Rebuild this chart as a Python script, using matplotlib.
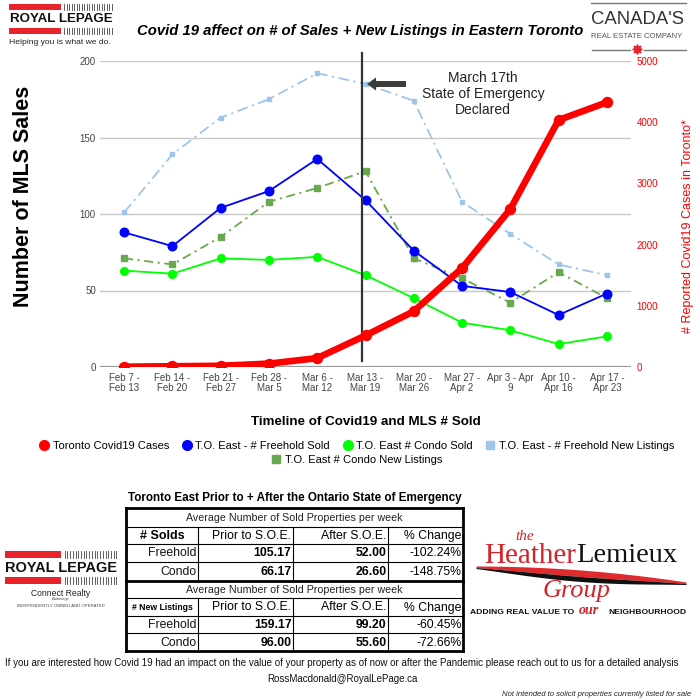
import matplotlib
matplotlib.use('Agg')
import matplotlib.pyplot as plt
from matplotlib.lines import Line2D
from matplotlib.patches import Rectangle, FancyArrow
import numpy as np

plt.rcParams['font.family'] = ['Liberation Sans', 'DejaVu Sans']
NARROW = ['Liberation Sans Narrow', 'Liberation Sans', 'DejaVu Sans']
SERIF = ['Liberation Serif', 'DejaVu Serif']

# ---------------- data ----------------
weeks = ["Feb 7 -\nFeb 13", "Feb 14 -\nFeb 20", "Feb 21 -\nFeb 27", "Feb 28 -\nMar 5",
         "Mar 6 -\nMar 12", "Mar 13 -\nMar 19", "Mar 20 -\nMar 26", "Mar 27 -\nApr 2",
         "Apr 3 - Apr\n9", "Apr 10 -\nApr 16", "Apr 17 -\nApr 23"]
covid_cases = [5, 12, 20, 55, 145, 515, 910, 1615, 2580, 4035, 4325]
freehold_sold = [88, 79, 104, 115, 136, 109, 76, 53, 49, 34, 48]
condo_sold = [63, 61, 71, 70, 72, 60, 45, 29, 24, 15, 20]
freehold_listings = [101, 139, 163, 175, 192, 185, 174, 108, 87, 67, 60]
condo_listings = [71, 67, 85, 108, 117, 128, 71, 58, 42, 62, 45]
sales_ticks = [0, 50, 100, 150, 200]
cases_ticks = [0, 1000, 2000, 3000, 4000, 5000]
series_names = ["Toronto Covid19 Cases", "T.O. East - # Freehold Sold", "T.O. East # Condo Sold",
                "T.O. East - # Freehold New Listings", "T.O. East # Condo New Listings"]
soe_position = 4.92

table_title = "Toronto East Prior to + After the Ontario State of Emergency"
table_subtitle = "Average Number of Sold Properties per week"
table_cols = ["Prior to S.O.E.", "After S.O.E.", "% Change"]
property_types = ["Freehold", "Condo"]
sold_prior = [105.17, 66.17]
sold_after = [52.00, 26.60]
sold_change = [-102.24, -148.75]
list_prior = [159.17, 96.00]
list_after = [99.20, 55.60]
list_change = [-60.45, -72.66]

# ---------------- figure ----------------
fig = plt.figure(figsize=(7, 7), dpi=100)
fig.patch.set_facecolor('white')

ax = fig.add_axes([100/700, 333/700, 531/700, 306/700])
ax.set_facecolor('none')
x = np.arange(len(weeks))
ax.set_xlim(-0.5, len(weeks) - 0.5)
ax.set_ylim(0, 200)
for s in ax.spines.values():
    s.set_visible(False)
ax.set_yticks(sales_ticks)
ax.grid(axis='y', color='#c8c8c8', lw=1)
ax.set_axisbelow(True)
ax.axhline(0, color='#9a9a9a', lw=1.6, zorder=1)
ax.tick_params(axis='y', length=0, pad=3, labelsize=7, labelcolor='#444444')
ax.set_xticks(x)
ax.set_xticklabels(weeks, fontsize=7, color='#444444', linespacing=1.0)
ax.tick_params(axis='x', length=0, pad=4)

ax2 = ax.twinx()
ax2.set_ylim(0, 5000)
ax2.set_yticks(cases_ticks)
for s in ax2.spines.values():
    s.set_visible(False)
ax2.tick_params(axis='y', length=0, pad=4, labelsize=7, labelcolor='#ff0000')

ax.plot(x, freehold_listings, color='#9fc5e8', lw=1.3, ls=(0, (6, 2.5, 1.2, 2.5)),
        marker='s', ms=3.2, zorder=3)
ax.plot(x, condo_listings, color='#6aa84f', lw=1.3, ls=(0, (5, 2.5, 1.2, 2.5)),
        marker='s', ms=4.2, zorder=3)
ax.plot(x, condo_sold, color='#00ff00', lw=1.3, marker='o', ms=5.6, zorder=4)
ax.plot(x, freehold_sold, color='#0000ff', lw=1.3, marker='o', ms=6.2, zorder=4)
ax2.plot(x, covid_cases, color='#ff0000', lw=4.8, marker='o', ms=7.2, zorder=5,
         solid_capstyle='round', solid_joinstyle='round')
ax.plot([soe_position, soe_position], [4, 205], color='#333333', lw=1.6,
        clip_on=False, zorder=6)

ax.set_ylabel("Number of MLS Sales", fontsize=15.5, fontweight='bold', labelpad=0)
ax.yaxis.set_label_coords(-66/531, 0.556)
ax2.set_ylabel("# Reported Covid19 Cases in Toronto*", fontsize=9, color='#ff0000')
ax2.yaxis.set_label_coords(1 + 51/531, 0.46)
ax.set_xlabel("Timeline of Covid19 and MLS # Sold", fontsize=9.6, fontweight='bold')
ax.xaxis.set_label_coords(0.5, -49/306)

# legend
mk = dict(linestyle='none')
h = [Line2D([], [], marker='o', color='#ff0000', ms=7, **mk),
     Line2D([], [], marker='o', color='#0000ff', ms=7, **mk),
     Line2D([], [], marker='o', color='#00ff00', ms=7, **mk),
     Line2D([], [], marker='s', color='#9fc5e8', ms=5.5, **mk),
     Line2D([], [], marker='s', color='#6aa84f', ms=5.5, **mk)]
fig.legend(h[:4], series_names[:4], loc='center', ncol=4,
           bbox_to_anchor=(357/700, 1 - 446/700), frameon=False, fontsize=8,
           handlelength=0.8, handletextpad=0.35, columnspacing=1.2)
fig.legend(h[4:], series_names[4:], loc='center', ncol=1,
           bbox_to_anchor=(357/700, 1 - 460/700), frameon=False, fontsize=8,
           handlelength=0.8, handletextpad=0.35)

# ---------------- overlay (pixel coords) ----------------
ov = fig.add_axes([0, 0, 1, 1], zorder=10)
ov.set_xlim(0, 700)
ov.set_ylim(700, 0)
ov.axis('off')
ov.patch.set_visible(False)

ov.text(360, 31, "Covid 19 affect on # of Sales + New Listings in Eastern Toronto",
        ha='center', va='center', fontsize=10.7, fontweight='bold', style='italic')

ov.text(483, 94, "March 17th\nState of Emergency\nDeclared", ha='center', va='center',
        fontsize=10, linespacing=1.2, color='#222222')
ov.add_patch(FancyArrow(406, 84, -39, 0, width=6, head_width=13, head_length=9,
                        length_includes_head=True, color='#3d3d3d', lw=0))


def royal_logo(x0, y0, w):
    s = w / 104
    ov.add_patch(Rectangle((x0, y0), 52 * s, 6 * s, color='#e8232a', lw=0))
    ov.add_patch(Rectangle((x0, y0 + 24 * s), 52 * s, 6 * s, color='#e8232a', lw=0))
    for yy in (y0, y0 + 24 * s):
        for k in range(20):
            xx = x0 + 55 * s + k * 2.5 * s
            ov.plot([xx, xx], [yy, yy + 6 * s], color='#444444', lw=0.6)
    ov.text(x0 + 52 * s, y0 + 15.5 * s, "ROYAL LEPAGE", ha='center', va='center',
            fontsize=9.6 * s, fontweight='bold', color='#111111')


royal_logo(9, 4, 104)
ov.text(9, 43, "Helping you is what we do.", ha='left', va='center', fontsize=6.1,
        family=NARROW, color='#222222')

royal_logo(5, 551, 113)
ov.text(61, 593, "Connect Realty", ha='center', va='center', fontsize=6.2, color='#222222')
ov.text(61, 599, "Brokerage", ha='center', va='center', fontsize=2.8, color='#444444')
ov.text(61, 606, "INDEPENDENTLY OWNED AND OPERATED", ha='center', va='center',
        fontsize=3.1, color='#444444')

# Canada's logo
ov.plot([591, 686], [3, 3], color='#777777', lw=1)
ov.text(638, 19, "CANADA'S", ha='center', va='center', fontsize=13.3, family=NARROW,
        color='#333333')
ov.text(637, 36, "REAL ESTATE COMPANY", ha='center', va='center', fontsize=5.6,
        family=NARROW, color='#555555')
ov.plot([592, 630], [50, 50], color='#777777', lw=1)
ov.plot([644, 686], [50, 50], color='#777777', lw=1)
ov.plot([637], [49], marker=(8, 1, 0), color='#e8232a', ms=7)

# Heather Lemieux logo
ov.text(525, 537, "the", ha='center', va='center', fontsize=11, family=SERIF,
        style='italic', color='#d2232a')
ov.text(576, 556, "Heather", ha='right', va='center', fontsize=21, family=SERIF,
        color='#d2232a')
ov.text(576, 556, "Lemieux", ha='left', va='center', fontsize=20.5, family=SERIF,
        color='#111111')
t = np.linspace(0, 1, 60)
xs = 476 + 210 * t
top = 566 + 16 * t ** 2
mid = top + 1.5 + 5 * np.sin(np.pi * t)
bot = mid + 1 + 4 * np.sin(np.pi * t)
ov.fill_between(xs, top, mid, color='#e02a2e', lw=0)
ov.fill_between(xs, mid, bot, color='#111111', lw=0)
ov.text(577, 591, "Group", ha='center', va='center', fontsize=19, family=SERIF,
        style='italic', color='#d2232a')
ov.text(574, 613, "ADDING REAL VALUE TO", ha='right', va='center', fontsize=6.1,
        family=NARROW, fontweight='bold', color='#111111')
ov.text(589, 611, "our", ha='center', va='center', fontsize=10, family=SERIF,
        style='italic', fontweight='bold', color='#d2232a')
ov.text(608, 613, "NEIGHBOURHOOD", ha='left', va='center', fontsize=6.1,
        family=NARROW, fontweight='bold', color='#111111')

# ---------------- table ----------------
cx = [126, 198, 293, 388, 463]
ry = [508, 527, 544, 562, 581, 598, 616, 633, 651]
ov.text(295, 498, table_title, ha='center', va='center', fontsize=8.4,
        family=NARROW, fontweight='bold')
for i, yv in enumerate(ry):
    lw = 2 if i in (0, 4, 8) else 0.8
    ov.plot([cx[0], cx[-1]], [yv, yv], color='black', lw=lw, solid_capstyle='projecting')
ov.plot([cx[0], cx[0]], [ry[0], ry[-1]], color='black', lw=2, solid_capstyle='projecting')
ov.plot([cx[-1], cx[-1]], [ry[0], ry[-1]], color='black', lw=2, solid_capstyle='projecting')
for xv in cx[1:-1]:
    for a, b in ((ry[1], ry[4]), (ry[5], ry[8])):
        ov.plot([xv, xv], [a, b], color='black', lw=0.8)

FS = 8.8


def block(r0, header, hsize, prior, after, change):
    ov.text(294.5, (ry[r0] + ry[r0 + 1]) / 2 + 0.5, table_subtitle, ha='center', va='center',
            fontsize=7.7, family=NARROW, color='#222222')
    yh = (ry[r0 + 1] + ry[r0 + 2]) / 2 + 0.5
    ov.text((cx[0] + cx[1]) / 2, yh, header, ha='center', va='center', fontsize=hsize,
            family=NARROW, fontweight='bold')
    for j, c in enumerate(table_cols):
        ov.text(cx[j + 2] - 1.5, yh, c, ha='right', va='center', fontsize=FS, family=NARROW)
    for k, name in enumerate(property_types):
        yr = (ry[r0 + 2 + k] + ry[r0 + 3 + k]) / 2 + 0.5
        ov.text(cx[1] - 1.5, yr, name, ha='right', va='center', fontsize=FS, family=NARROW,
                color='#111111')
        ov.text(cx[2] - 1.5, yr, f"{prior[k]:.2f}", ha='right', va='center', fontsize=FS,
                family=NARROW, fontweight='bold')
        ov.text(cx[3] - 1.5, yr, f"{after[k]:.2f}", ha='right', va='center', fontsize=FS,
                family=NARROW, fontweight='bold')
        ov.text(cx[4] - 1.5, yr, f"{change[k]:.2f}%", ha='right', va='center', fontsize=FS,
                family=NARROW)


block(0, "# Solds", 9, sold_prior, sold_after, sold_change)
block(4, "# New Listings", 6.2, list_prior, list_after, list_change)

ov.text(5, 663, "If you are interested how Covid 19 had an impact on the value of your property "
        "as of now or after the Pandemic please reach out to us for a detailed analysis",
        ha='left', va='center', fontsize=7.0, family=NARROW, color='#111111')
ov.text(342, 679, "RossMacdonald@RoyalLePage.ca", ha='center', va='center', fontsize=7.0,
        family=NARROW, color='#111111')
ov.text(691, 695, "Not intended to solicit properties currently listed for sale", ha='right',
        va='center', fontsize=5.6, family=NARROW, style='italic', color='#222222')

fig.savefig('out.png', dpi=100)
